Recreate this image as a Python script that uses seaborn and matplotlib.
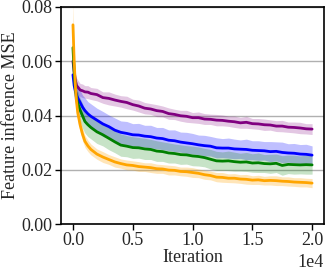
import numpy as np
import pandas as pd
import matplotlib
matplotlib.use("Agg")
import matplotlib.pyplot as plt
import seaborn as sns

iters = [0, 100, 200, 300, 400, 600, 800, 1000, 1250, 1500,
         2000, 2500, 3000, 3500, 4000, 4500, 5000, 5500, 6000, 6500,
         7000, 7500, 8000, 8500, 9000, 9500, 10000, 10500, 11000, 11500,
         12000, 12500, 13000, 13500, 14000, 14500, 15000, 15500, 16000, 16500,
         17000, 17500, 18000, 18500, 19000, 19500, 20000]

purple_mean = [0.0600, 0.0560, 0.0530, 0.0510, 0.0505, 0.0494, 0.0491, 0.0487, 0.0486, 0.0481,
               0.0477, 0.0466, 0.0463, 0.0457, 0.0452, 0.0448, 0.0440, 0.0435, 0.0427, 0.0424,
               0.0418, 0.0415, 0.0407, 0.0404, 0.0399, 0.0397, 0.0392, 0.0392, 0.0387, 0.0386,
               0.0383, 0.0382, 0.0379, 0.0377, 0.0373, 0.0375, 0.0370, 0.0369, 0.0366, 0.0365,
               0.0361, 0.0361, 0.0357, 0.0356, 0.0354, 0.0351, 0.0350]
purple_std = [0.0040, 0.0035, 0.0030, 0.0028, 0.0026, 0.0024, 0.0025, 0.0023, 0.0024, 0.0022,
              0.0023, 0.0021, 0.0024, 0.0022, 0.0021, 0.0023, 0.0020, 0.0022, 0.0021, 0.0020,
              0.0022, 0.0020, 0.0021, 0.0019, 0.0020, 0.0022, 0.0019, 0.0021, 0.0020, 0.0019,
              0.0021, 0.0020, 0.0019, 0.0021, 0.0020, 0.0022, 0.0019, 0.0020, 0.0021, 0.0019,
              0.0020, 0.0021, 0.0019, 0.0020, 0.0021, 0.0019, 0.0020]

blue_mean = [0.0550, 0.0510, 0.0490, 0.0478, 0.0465, 0.0448, 0.0431, 0.0418, 0.0406, 0.0397,
             0.0383, 0.0369, 0.0359, 0.0346, 0.0338, 0.0334, 0.0329, 0.0328, 0.0324, 0.0322,
             0.0317, 0.0315, 0.0309, 0.0307, 0.0302, 0.0299, 0.0296, 0.0292, 0.0289, 0.0287,
             0.0281, 0.0280, 0.0280, 0.0277, 0.0276, 0.0275, 0.0272, 0.0271, 0.0270, 0.0267,
             0.0268, 0.0264, 0.0262, 0.0261, 0.0258, 0.0257, 0.0254]
blue_std = [0.0050, 0.0048, 0.0046, 0.0047, 0.0045, 0.0046, 0.0044, 0.0047, 0.0045, 0.0046,
            0.0044, 0.0046, 0.0043, 0.0045, 0.0042, 0.0044, 0.0041, 0.0043, 0.0040, 0.0042,
            0.0039, 0.0041, 0.0038, 0.0040, 0.0037, 0.0039, 0.0038, 0.0036, 0.0038, 0.0036,
            0.0037, 0.0035, 0.0037, 0.0036, 0.0034, 0.0038, 0.0035, 0.0036, 0.0034, 0.0037,
            0.0035, 0.0038, 0.0034, 0.0036, 0.0035, 0.0037, 0.0034]

green_mean = [0.0650, 0.0560, 0.0500, 0.0460, 0.0445, 0.0420, 0.0399, 0.0378, 0.0366, 0.0356,
              0.0340, 0.0329, 0.0316, 0.0303, 0.0291, 0.0287, 0.0282, 0.0281, 0.0277, 0.0275,
              0.0269, 0.0267, 0.0262, 0.0260, 0.0256, 0.0255, 0.0251, 0.0249, 0.0245, 0.0239,
              0.0233, 0.0232, 0.0233, 0.0230, 0.0228, 0.0229, 0.0225, 0.0226, 0.0223, 0.0222,
              0.0224, 0.0216, 0.0220, 0.0219, 0.0218, 0.0219, 0.0218]
green_std = [0.0060, 0.0055, 0.0050, 0.0048, 0.0046, 0.0044, 0.0045, 0.0043, 0.0044, 0.0042,
             0.0043, 0.0041, 0.0042, 0.0040, 0.0041, 0.0039, 0.0040, 0.0038, 0.0039, 0.0037,
             0.0038, 0.0036, 0.0037, 0.0035, 0.0036, 0.0034, 0.0036, 0.0035, 0.0034, 0.0036,
             0.0035, 0.0034, 0.0036, 0.0035, 0.0033, 0.0035, 0.0034, 0.0036, 0.0033, 0.0035,
             0.0034, 0.0036, 0.0034, 0.0035, 0.0033, 0.0035, 0.0034]

orange_mean = [0.0734, 0.0600, 0.0510, 0.0450, 0.0410, 0.0365, 0.0331, 0.0305, 0.0288, 0.0275,
               0.0258, 0.0247, 0.0238, 0.0229, 0.0223, 0.0218, 0.0216, 0.0212, 0.0210, 0.0208,
               0.0204, 0.0203, 0.0199, 0.0198, 0.0194, 0.0193, 0.0190, 0.0187, 0.0182, 0.0179,
               0.0173, 0.0172, 0.0169, 0.0169, 0.0166, 0.0165, 0.0162, 0.0163, 0.0160, 0.0161,
               0.0160, 0.0158, 0.0157, 0.0155, 0.0154, 0.0153, 0.0151]
orange_std = [0.0090, 0.0060, 0.0045, 0.0035, 0.0030, 0.0026, 0.0024, 0.0022, 0.0021, 0.0020,
              0.0019, 0.0020, 0.0018, 0.0019, 0.0017, 0.0018, 0.0017, 0.0018, 0.0016, 0.0018,
              0.0017, 0.0016, 0.0018, 0.0017, 0.0016, 0.0017, 0.0018, 0.0016, 0.0017, 0.0016,
              0.0017, 0.0018, 0.0016, 0.0017, 0.0016, 0.0018, 0.0016, 0.0017, 0.0016, 0.0017,
              0.0018, 0.0016, 0.0017, 0.0016, 0.0017, 0.0016, 0.0017]

series = [
    ("purple", purple_mean, purple_std, "#800080", 0.22),
    ("blue", blue_mean, blue_std, "#0000ff", 0.25),
    ("green", green_mean, green_std, "#008000", 0.22),
    ("orange", orange_mean, orange_std, "#ffa500", 0.28),
]

sns.set_style("ticks")
plt.rcParams["font.family"] = ["Liberation Serif", "DejaVu Serif"]
plt.rcParams["mathtext.fontset"] = "stix"

fig = plt.figure(figsize=(3.28, 2.76), dpi=100)
ax = fig.add_axes([0.186, 0.188, 0.802, 0.787])

x = np.array(iters)
for name, m, s, c, a in series:
    m = np.array(m)
    s = np.array(s)
    ax.fill_between(x, m - s, m + s, color=c, alpha=a, lw=0)
    df = pd.DataFrame({"Iteration": x, "MSE": m})
    sns.lineplot(data=df, x="Iteration", y="MSE", color=c, lw=2, ax=ax)

ax.set_ylim(0, 0.08)
ax.set_yticks([0.0, 0.02, 0.04, 0.06, 0.08])
ax.set_xticks([0, 5000, 10000, 15000, 20000])
ax.ticklabel_format(style="sci", axis="x", scilimits=(0, 0))
ax.yaxis.grid(True, color="#b0b0b0", lw=1)
ax.xaxis.grid(False)
ax.set_axisbelow(True)

ax.set_xlabel("Iteration", fontsize=13, labelpad=0)
ax.set_ylabel("Feature inference MSE", fontsize=13, labelpad=2)
ax.tick_params(labelsize=13, length=4, width=1, color="black", pad=2)
ax.xaxis.get_offset_text().set_fontsize(13)
for sp in ax.spines.values():
    sp.set_color("black")
    sp.set_linewidth(1.2)

fig.savefig("out.png", dpi=100)
